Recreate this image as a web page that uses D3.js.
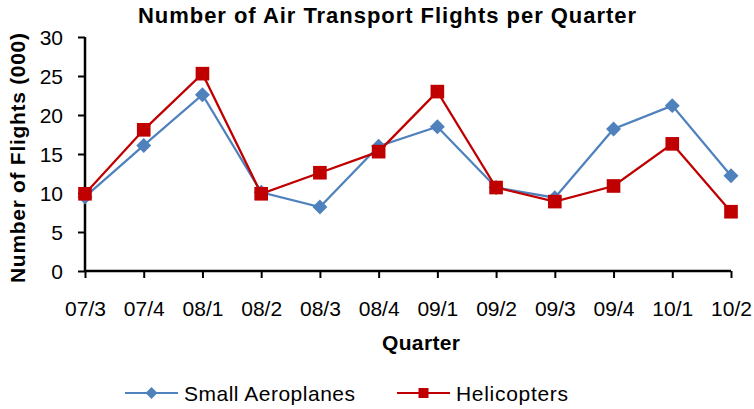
<!DOCTYPE html>
<html>
<head>
<meta charset="utf-8">
<script src="https://cdn.jsdelivr.net/npm/d3@7"></script>
<style>
  body { margin: 0; background: #fff; }
  text { font-family: "Liberation Sans", Arial, sans-serif; }
</style>
</head>
<body>
<div id="chart"></div>
<script>
// data
const quarters = ["07/3", "07/4", "08/1", "08/2", "08/3", "08/4", "09/1", "09/2", "09/3", "09/4", "10/1", "10/2"];
const smallAeroplanes = [9.5, 16.1, 22.6, 10.1, 8.2, 16.0, 18.5, 10.7, 9.4, 18.2, 21.2, 12.2];
const helicopters = [9.9, 18.1, 25.3, 9.9, 12.6, 15.3, 23.0, 10.7, 8.9, 10.9, 16.3, 7.6];
const yTicks = [0, 5, 10, 15, 20, 25, 30];

const width = 754, height = 409;
const margin = { left: 85, right: 23, top: 37, bottom: 138 };

const svg = d3.select("#chart").append("svg")
  .attr("width", width)
  .attr("height", height);

const x = d3.scalePoint()
  .domain(quarters)
  .range([margin.left, width - margin.right]);

const y = d3.scaleLinear()
  .domain([0, 30])
  .range([height - margin.bottom, margin.top]);

// title
svg.append("text")
  .attr("x", 138)
  .attr("y", 23)
  .attr("textLength", 498)
  .attr("lengthAdjust", "spacing")
  .style("font-size", "22px")
  .style("font-weight", "bold")
  .text("Number of Air Transport Flights per Quarter");

// axes
const xAxis = svg.append("g")
  .attr("transform", `translate(0,${y(0)})`)
  .call(d3.axisBottom(x).tickSize(7));
const yAxis = svg.append("g")
  .attr("transform", `translate(${margin.left},0)`)
  .call(d3.axisLeft(y).tickValues(yTicks).tickSize(7).tickPadding(15));

[xAxis, yAxis].forEach(g => {
  g.select(".domain").attr("stroke", "#000").attr("stroke-width", 2.5);
  g.selectAll(".tick line").attr("stroke", "#000").attr("stroke-width", 2);
  g.selectAll(".tick text")
    .attr("fill", "#000")
    .style("font-size", "21px")
    .style("font-family", "'Liberation Sans', Arial, sans-serif");
});
yAxis.selectAll(".tick text").attr("dy", "0.36em");
xAxis.selectAll(".tick text").attr("y", 45).attr("dy", 0);
xAxis.select(".domain").attr("d", `M${x(quarters[0])},0H${x(quarters[quarters.length - 1])}`);
yAxis.select(".domain").attr("d", `M0,${y(0)}V${y(30)}`);

// axis titles
svg.append("text")
  .attr("x", 382)
  .attr("y", 350)
  .attr("textLength", 78)
  .attr("lengthAdjust", "spacing")
  .style("font-size", "21px")
  .style("font-weight", "bold")
  .text("Quarter");

svg.append("text")
  .attr("transform", "translate(25,283) rotate(-90)")
  .attr("textLength", 250)
  .attr("lengthAdjust", "spacing")
  .style("font-size", "21px")
  .style("font-weight", "bold")
  .text("Number of Flights (000)");

const series = [
  { name: "Small Aeroplanes", values: smallAeroplanes, color: "#4F81BD", rotate: 45, size: 112, legendSize: 70, textLen: 171 },
  { name: "Helicopters", values: helicopters, color: "#C00000", rotate: 0, size: 186, legendSize: 100, textLen: 112 }
];

const line = d3.line()
  .x((d, i) => x(quarters[i]))
  .y(d => y(d));

series.forEach(s => {
  svg.append("path")
    .datum(s.values)
    .attr("fill", "none")
    .attr("stroke", s.color)
    .attr("stroke-width", 2.25)
    .attr("d", line);

  svg.selectAll(null)
    .data(s.values)
    .join("path")
    .attr("transform", (d, i) => `translate(${x(quarters[i])},${y(d)}) rotate(${s.rotate})`)
    .attr("d", d3.symbol().type(d3.symbolSquare).size(s.size))
    .attr("fill", s.color);
});

// legend
const legendX = [125, 397];
series.forEach((s, i) => {
  const g = svg.append("g").attr("transform", `translate(${legendX[i]},393)`);
  g.append("line")
    .attr("x1", 0).attr("x2", 53)
    .attr("stroke", s.color)
    .attr("stroke-width", 2);
  g.append("path")
    .attr("transform", `translate(26.5,0) rotate(${s.rotate})`)
    .attr("d", d3.symbol().type(d3.symbolSquare).size(s.legendSize))
    .attr("fill", s.color);
  g.append("text")
    .attr("x", 59)
    .attr("y", 8)
    .attr("textLength", s.textLen)
    .attr("lengthAdjust", "spacing")
    .style("font-size", "21px")
    .text(s.name);
});
</script>
</body>
</html>
